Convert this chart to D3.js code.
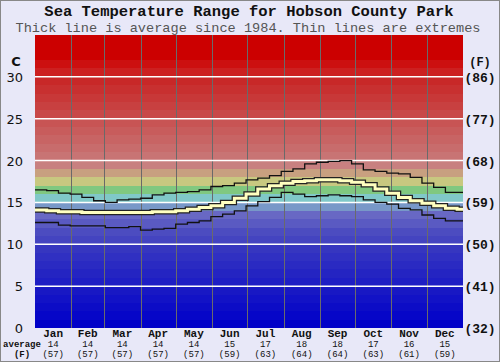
<!DOCTYPE html>
<html>
<head>
<meta charset="utf-8">
<script src="https://cdn.jsdelivr.net/npm/d3@7"></script>
<style>
  body { margin: 0; background: #e8e8f8; }
  svg { display: block; }
</style>
</head>
<body>
<svg id="chart" width="500" height="362"></svg>
<script>
// month labels and the monthly average shown under the axis
var months = ["Jan","Feb","Mar","Apr","May","Jun","Jul","Aug","Sep","Oct","Nov","Dec"]
var monthDays = [31,28,31,30,31,30,31,31,30,31,30,31]
var avgC = [14,14,14,14,14,15,17,18,18,17,16,15]
var avgF = [57,57,57,57,57,59,63,64,64,63,61,59]

// sampled every 10 days (day of year)
var days = [0,10,20,30,40,50,60,70,80,90,100,110,120,130,140,150,160,170,180,
  190,200,210,220,230,240,250,260,270,280,290,300,310,320,330,340,350,360,365]
var maxT = [16.5,16.4,16.1,16.0,15.6,15.2,15.0,15.3,15.4,15.5,15.9,16.1,16.2,16.3,16.5,16.9,17.0,17.3,17.7,
  17.9,18.2,18.7,19.0,19.6,19.8,19.9,20.0,19.6,18.9,18.7,18.5,18.4,18.0,17.3,16.8,16.2,16.2,16.2]
var meanT = [14.1,14.0,13.9,13.9,13.8,13.8,13.8,13.8,13.8,13.8,13.9,13.9,14.0,14.2,14.4,14.6,15.0,15.5,16.0,
  16.6,17.0,17.3,17.5,17.6,17.7,17.7,17.6,17.4,17.1,16.6,16.1,15.6,15.2,14.9,14.6,14.3,14.2,14.2]
var minT = [12.6,12.6,12.3,12.2,12.2,12.2,12.0,12.0,12.1,11.7,11.8,11.9,12.4,12.6,12.8,13.3,13.6,14.0,14.6,
  15.1,15.6,16.2,16.0,15.7,15.8,15.9,15.8,15.7,15.3,15.0,14.8,14.3,14.1,13.5,13.1,12.8,12.8,12.8]

// one colour per degree band, 0..35 C
var bandColors = ["#0000c8","#0606c8","#0c0cc6","#1212c6","#1818c4","#1e1ec4","#2424c2","#2a2ac2","#3030c2","#3636c0",
  "#4444c0","#4c4cc0","#5a5ac2","#6868c4","#7898c8","#80c8c8","#80c880","#c8c880","#c8a080","#c88080",
  "#c87474","#c86c6c","#c86464","#c85c5c","#c85454","#c84848","#c84040","#c83838","#c83030","#c82828",
  "#cc2020","#cc1010","#cc0000","#cc0000","#cc0000"]
var cTicks = [0,5,10,15,20,25,30]
var fTicks = [32,41,50,59,68,77,86]

!(function(){
  "use strict"

  var svg = d3.select("#chart")
  var pL = 35, pR = 463, pT = 35, pB = 328

  var x = d3.scaleLinear().domain([0,365]).range([pL,pR])
  var y = d3.scaleLinear().domain([0,35]).range([pB,pT])

  // frame
  svg.append("rect").attr("x",0.5).attr("y",0.5).attr("width",499).attr("height",361)
    .attr("fill","#e8e8f8").attr("stroke","#888")

  svg.append("text").attr("x",249).attr("y",16).attr("text-anchor","middle")
    .style("font","bold 15.5px 'Liberation Mono', monospace").attr("fill","#111")
    .text("Sea Temperature Range for Hobson County Park")
  svg.append("text").attr("x",248).attr("y",32).attr("text-anchor","middle")
    .style("font","13.6px 'Liberation Mono', monospace").attr("fill","#555")
    .text("Thick line is average since 1984. Thin lines are extremes")

  // colour bands
  svg.append("g").selectAll("rect").data(bandColors).enter().append("rect")
    .attr("x",pL).attr("width",pR-pL)
    .attr("y",function(d,i){return y(i+1)})
    .attr("height",function(d,i){return y(i)-y(i+1)})
    .attr("fill",function(d){return d})
    .attr("shape-rendering","crispEdges")

  // month dividers
  var cum = [0]
  monthDays.forEach(function(d,i){cum.push(cum[i]+d)})
  svg.append("g").selectAll("line").data(cum.slice(1,12)).enter().append("line")
    .attr("x1",function(d){return Math.round(x(d))+0.5}).attr("x2",function(d){return Math.round(x(d))+0.5})
    .attr("y1",pT).attr("y2",pB).attr("stroke","#6a6a6a").attr("stroke-width",1)

  // white grid lines
  svg.append("g").selectAll("line").data(cTicks.slice(1)).enter().append("line")
    .attr("x1",pL).attr("x2",pR)
    .attr("y1",function(d){return y(d)}).attr("y2",function(d){return y(d)})
    .attr("stroke","#fff").attr("stroke-width",1.5)

  var line = function(vals) {
    return d3.line().curve(d3.curveStepAfter)
      .x(function(d,i){return x(days[i])}).y(function(d){return y(d)})(vals)
  }

  svg.append("path").attr("d",line(maxT)).attr("fill","none").attr("stroke","#111").attr("stroke-width",1.3)
  svg.append("path").attr("d",line(minT)).attr("fill","none").attr("stroke","#111").attr("stroke-width",1.3)
  svg.append("path").attr("d",line(meanT)).attr("fill","none").attr("stroke","#222").attr("stroke-width",5.5)
  svg.append("path").attr("d",line(meanT)).attr("fill","none").attr("stroke","#ffffc0").attr("stroke-width",3)

  // left axis (C)
  svg.append("g").selectAll("text").data(cTicks).enter().append("text")
    .attr("x",23).attr("y",function(d){return y(d)+5}).attr("text-anchor","end")
    .style("font","13px 'DejaVu Sans', sans-serif").attr("fill","#111")
    .text(function(d){return d})
  svg.append("text").attr("x",16).attr("y",66).attr("text-anchor","middle")
    .style("font","bold 13px 'DejaVu Sans', sans-serif").attr("fill","#111").text("C")

  // right axis (F)
  svg.append("g").selectAll("text").data(fTicks).enter().append("text")
    .attr("x",480).attr("y",function(d,i){return y(cTicks[i])+5}).attr("text-anchor","middle")
    .style("font","bold 13px 'Liberation Mono', monospace").attr("fill","#111")
    .text(function(d){return "("+d+")"})
  svg.append("text").attr("x",480).attr("y",66).attr("text-anchor","middle")
    .style("font","bold 12px 'Liberation Mono', monospace").attr("fill","#111").text("(F)")

  // month labels
  var mg = svg.append("g").selectAll("g").data(months).enter().append("g")
    .attr("transform",function(d,i){return "translate("+x((cum[i]+cum[i+1])/2)+",0)"})
  mg.append("text").attr("y",337).attr("text-anchor","middle")
    .style("font","bold 11px 'Liberation Mono', monospace").attr("fill","#111").text(function(d){return d})
  mg.append("text").attr("y",347).attr("text-anchor","middle")
    .style("font","9px 'Liberation Mono', monospace").attr("fill","#111").text(function(d,i){return avgC[i]})
  mg.append("text").attr("y",357).attr("text-anchor","middle")
    .style("font","9px 'Liberation Mono', monospace").attr("fill","#111").text(function(d,i){return "("+avgF[i]+")"})

  svg.append("text").attr("x",22).attr("y",347).attr("text-anchor","middle")
    .style("font","bold 9px 'Liberation Mono', monospace").attr("fill","#111").text("average")
  svg.append("text").attr("x",22).attr("y",357).attr("text-anchor","middle")
    .style("font","bold 9px 'Liberation Mono', monospace").attr("fill","#111").text("(F)")
}())
</script>
</body>
</html>
